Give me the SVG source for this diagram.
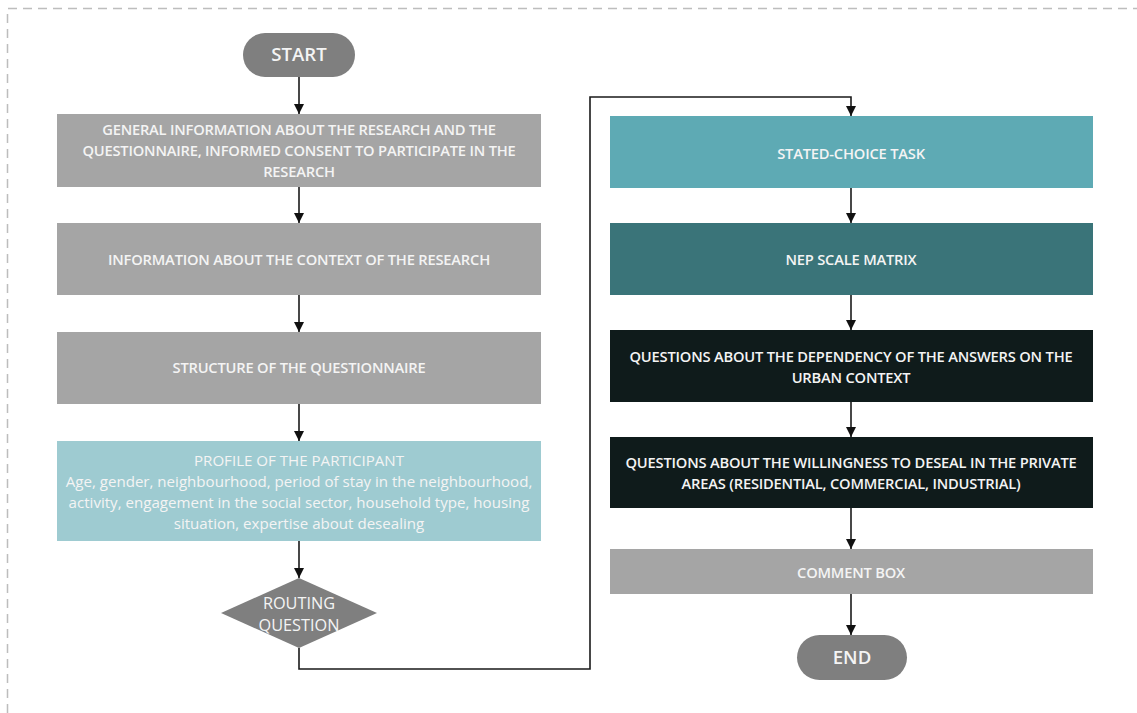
<svg xmlns="http://www.w3.org/2000/svg" width="1137" height="713" viewBox="0 0 1137 713">
  <defs>
    <marker id="arrow" viewBox="0 0 10 10" refX="10" refY="5" markerWidth="10" markerHeight="10" markerUnits="userSpaceOnUse" orient="auto">
      <path d="M0,0 L10,5 L0,10 z" fill="#111"/>
    </marker>
    <style>
      text { font-family: "Open Sans", "Noto Sans", "Liberation Sans", sans-serif; fill: #f4f4f4; text-anchor: middle; }
      .cap { font-size: 14.7px; font-weight: 600; letter-spacing: -0.2px; }
      .body { font-size: 15.1px; }
      .diam { font-size: 16.3px; font-weight: 500; }
      .term { font-size: 18.6px; font-weight: 600; }
      .grey { fill: #a5a5a5; }
      .dark { fill: #7f7f7f; }
      .conn { fill: none; stroke: #1a1a1a; stroke-width: 1.6; marker-end: url(#arrow); }
    </style>
  </defs>

  <rect width="1137" height="713" fill="#ffffff"/>
  <!-- dashed frame -->
  <path d="M7.5,713 V8.5 H1137" fill="none" stroke="#bdbdbd" stroke-width="1.5" stroke-dasharray="9 6"/>

  <!-- connectors -->
  <g id="connectors">
    <path class="conn" d="M299,77 V114"/>
    <path class="conn" d="M299,187 V223"/>
    <path class="conn" d="M299,295 V332"/>
    <path class="conn" d="M299,404 V441"/>
    <path class="conn" d="M299,541 V578"/>
    <path class="conn" d="M299,648 V669 H590 V97 H851 V116"/>
    <path class="conn" d="M851,188 V223"/>
    <path class="conn" d="M851,295 V330"/>
    <path class="conn" d="M851,402 V437"/>
    <path class="conn" d="M851,508 V549"/>
    <path class="conn" d="M851,594 V635"/>
  </g>

  <g id="start">
    <rect class="dark" x="243" y="33" width="112" height="44" rx="22"/>
    <text class="term" x="299" y="61">START</text>
  </g>

  <g id="general-info">
    <rect class="grey" x="57" y="114" width="484" height="73"/>
    <text class="cap" x="299" y="135">GENERAL INFORMATION ABOUT THE RESEARCH AND THE</text>
    <text class="cap" x="299" y="156">QUESTIONNAIRE, INFORMED CONSENT TO PARTICIPATE IN THE</text>
    <text class="cap" x="299" y="177">RESEARCH</text>
  </g>

  <g id="context-info">
    <rect class="grey" x="57" y="223" width="484" height="72"/>
    <text class="cap" x="299" y="265">INFORMATION ABOUT THE CONTEXT OF THE RESEARCH</text>
  </g>

  <g id="structure">
    <rect class="grey" x="57" y="332" width="484" height="72"/>
    <text class="cap" x="299" y="373">STRUCTURE OF THE QUESTIONNAIRE</text>
  </g>

  <g id="profile">
    <rect x="57" y="441" width="484" height="100" fill="#9ecbd1"/>
    <text class="body" x="299" y="466">PROFILE OF THE PARTICIPANT</text>
    <text class="body" x="299" y="487">Age, gender, neighbourhood, period of stay in the neighbourhood,</text>
    <text class="body" x="299" y="508">activity, engagement in the social sector, household type, housing</text>
    <text class="body" x="299" y="529">situation, expertise about desealing</text>
  </g>

  <g id="routing">
    <polygon class="dark" points="299,578 377,613 299,648 221,613"/>
    <text class="diam" x="299" y="609">ROUTING</text>
    <text class="diam" x="299" y="631">QUESTION</text>
  </g>

  <g id="stated-choice">
    <rect x="610" y="116" width="483" height="72" fill="#5eaab4"/>
    <text class="cap" x="851" y="159">STATED-CHOICE TASK</text>
  </g>

  <g id="nep">
    <rect x="610" y="223" width="483" height="72" fill="#3a7479"/>
    <text class="cap" x="851" y="265">NEP SCALE MATRIX</text>
  </g>

  <g id="dependency">
    <rect x="610" y="330" width="483" height="72" fill="#0f1b1b"/>
    <text class="cap" x="851" y="362">QUESTIONS ABOUT THE DEPENDENCY OF THE ANSWERS ON THE</text>
    <text class="cap" x="851" y="383">URBAN CONTEXT</text>
  </g>

  <g id="willingness">
    <rect x="610" y="437" width="483" height="71" fill="#0f1b1b"/>
    <text class="cap" x="851" y="468">QUESTIONS ABOUT THE WILLINGNESS TO DESEAL IN THE PRIVATE</text>
    <text class="cap" x="851" y="489">AREAS (RESIDENTIAL, COMMERCIAL, INDUSTRIAL)</text>
  </g>

  <g id="comment">
    <rect class="grey" x="610" y="549" width="483" height="45"/>
    <text class="cap" x="851" y="578">COMMENT BOX</text>
  </g>

  <g id="end">
    <rect class="dark" x="797" y="635" width="110" height="45" rx="22.5"/>
    <text class="term" x="852" y="664">END</text>
  </g>
</svg>
